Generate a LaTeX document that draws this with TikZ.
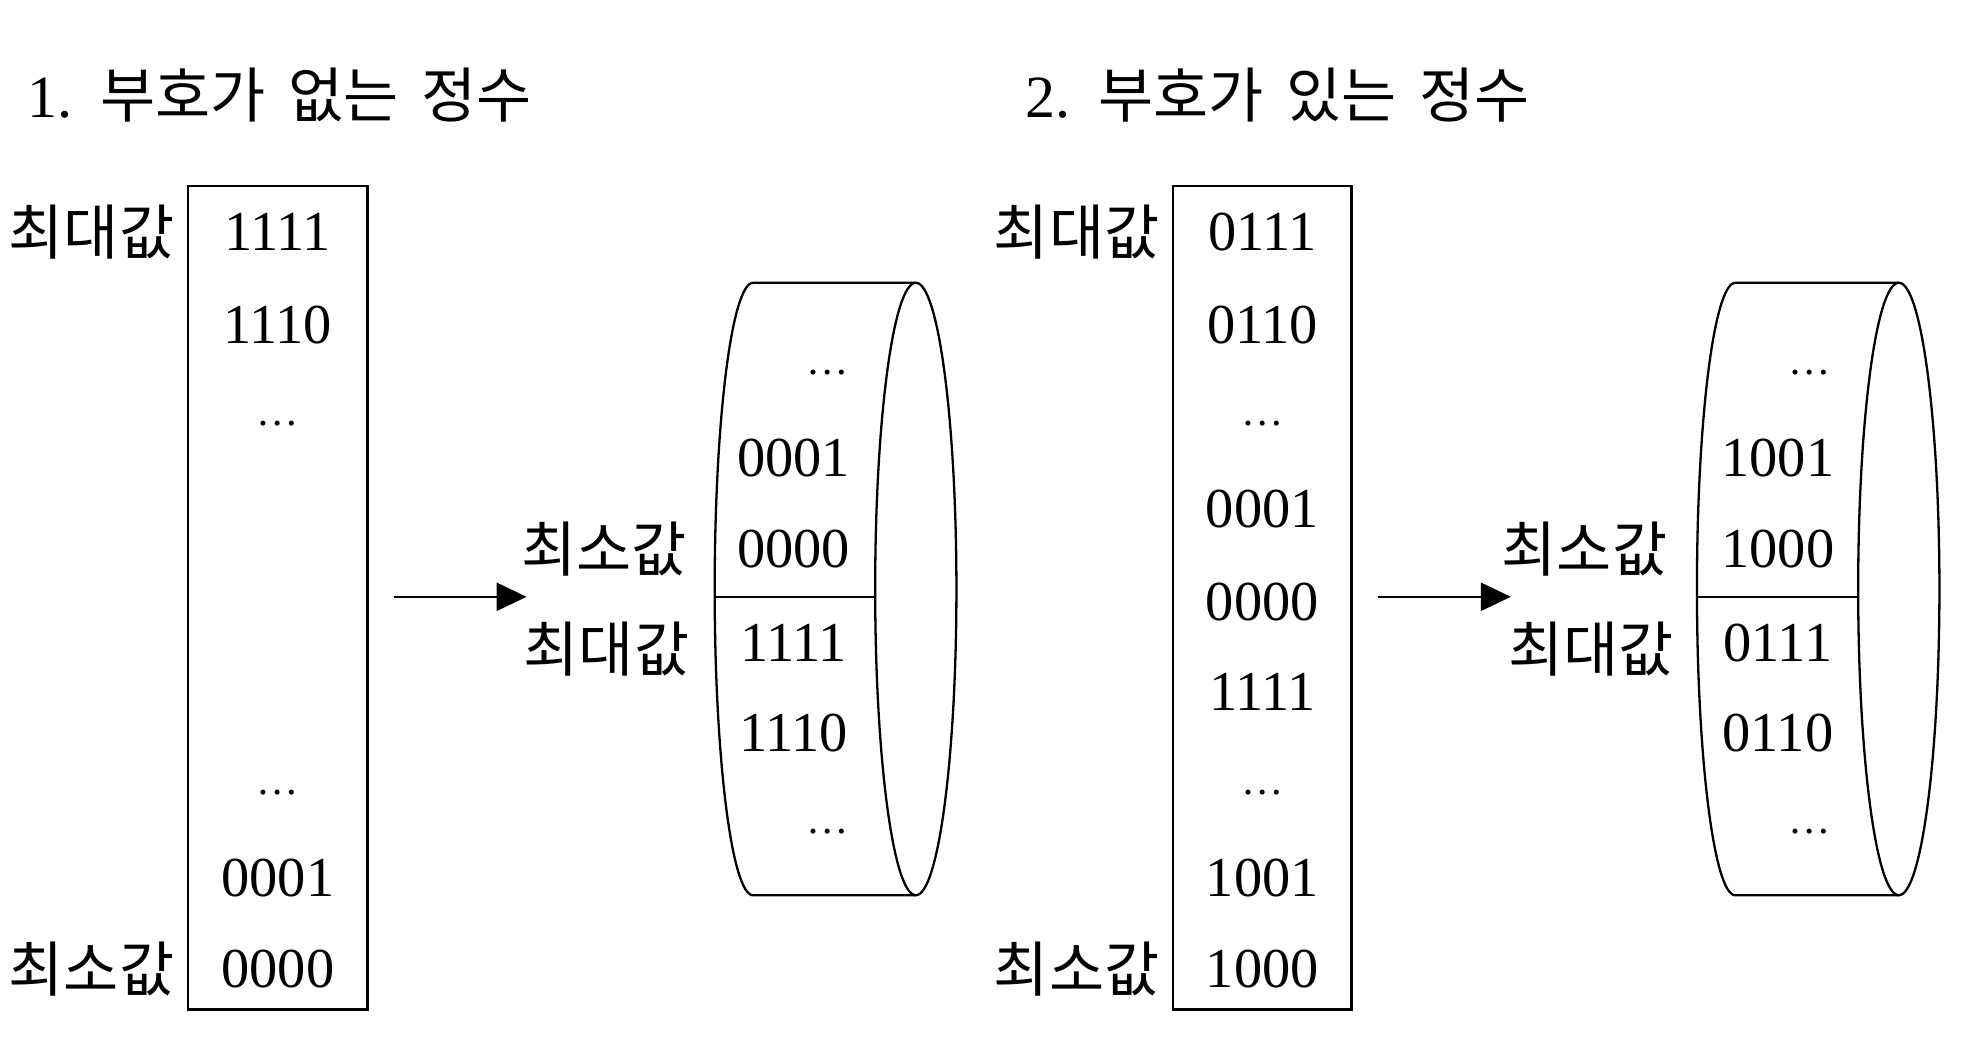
\documentclass[tikz,border=0pt]{standalone}
\usepackage{fontspec}
\setmainfont{Liberation Serif}
\newfontfamily\kr{Noto Sans CJK KR}[WordSpace=1.7]
\usetikzlibrary{arrows.meta}
\tikzset{
  val/.style={font=\fontsize{32}{36}\selectfont, inner sep=0pt},
  dts/.style={font=\fontsize{24}{28}\selectfont, inner sep=0pt},
  lbl/.style={font=\kr\fontsize{34}{40}\selectfont, inner sep=0pt},
  ttl/.style={font=\kr\fontsize{34}{40}\selectfont, inner sep=0pt, anchor=west},
  cell/.style={draw, line width=1.3pt, inner sep=0pt},
  arr/.style={line width=1.3pt, -{Triangle[length=0.6cm, width=0.56cm]}},
}

\begin{document}
\begin{tikzpicture}
        \useasboundingbox (0, 0) rectangle (39.2, 20.7);
        % titles
        \node[ttl] (t1) at (0.55, 18.8) {\textrm{1.} 부호가 없는 정수};
        \node[ttl] (t2) at (20.45, 18.8) {\textrm{2.} 부호가 있는 정수};

        % unsigned: memory box
        \node[cell, minimum width = 3.575cm, minimum height = 16.42cm] (box1) at (5.54, 8.78) {};
        \node[val] (u1) at (5.54, 16.075) {1111};
        \node[val] (u2) at (5.54, 14.225) {1110};
        \node[dts] (u3) at (5.54, 12.25) {\ldots};
        \node[dts] (u4) at (5.54, 4.9) {\ldots};
        \node[val] (u5) at (5.54, 3.2) {0001};
        \node[val] (u6) at (5.54, 1.375) {0000};
        \node[lbl, anchor = east] (umax) at ([xshift = -0.25cm]box1.west |- u1) {최대값};
        \node[lbl, anchor = east] (umin) at ([xshift = -0.25cm]box1.west |- u6) {최소값};

        \coordinate (a1) at (10.5, 8.8);
        \draw[arr] ([xshift = 0.5cm]box1.east |- a1) -- (a1);

        % unsigned: ring
        \draw[line width = 1.3pt] (18.26, 15.06) -- (15.015, 15.06)
                arc[start angle = 90, end angle = 270, x radius = 0.765, y radius = 6.106] -- (18.26, 2.85);
        \draw[line width = 1.3pt] (18.26, 8.956) ellipse [x radius = 0.81, y radius = 6.106];
        \draw[line width = 1.3pt] (14.25, 8.8) -- (17.45, 8.8);
        \node[dts] (r1) at (16.5, 13.275) {\ldots};
        \node[val] (r2) at (15.825, 11.575) {0001};
        \node[val] (r3) at (15.825, 9.75) {0000};
        \node[val] (r4) at (15.825, 7.875) {1111};
        \node[val] (r5) at (15.825, 6.075) {1110};
        \node[dts] (r6) at (16.5, 4.125) {\ldots};
        \node[lbl, anchor = east] (rmin) at (13.7, 9.75) {최소값};
        \node[lbl, anchor = east] (rmax) at (13.75, 7.75) {최대값};

        % signed: memory box
        \node[cell, minimum width = 3.55cm, minimum height = 16.42cm] (box2) at (25.17, 8.78) {};
        \node[val] (s1) at (25.17, 16.075) {0111};
        \node[val] (s2) at (25.17, 14.225) {0110};
        \node[dts] (s3) at (25.17, 12.25) {\ldots};
        \node[val] (s4) at (25.17, 10.55) {0001};
        \node[val] (s5) at (25.17, 8.7) {0000};
        \node[val] (s6) at (25.17, 6.9) {1111};
        \node[dts] (s7) at (25.17, 4.9) {\ldots};
        \node[val] (s8) at (25.17, 3.2) {1001};
        \node[val] (s9) at (25.17, 1.375) {1000};
        \node[lbl, anchor = east] (smax) at ([xshift = -0.25cm]box2.west |- s1) {최대값};
        \node[lbl, anchor = east] (smin) at ([xshift = -0.25cm]box2.west |- s9) {최소값};

        \coordinate (a2) at (30.125, 8.8);
        \draw[arr] ([xshift = 0.5cm]box2.east |- a2) -- (a2);

        % signed: ring
        \draw[line width = 1.3pt] (37.86, 15.06) -- (34.6, 15.06)
                arc[start angle = 90, end angle = 270, x radius = 0.765, y radius = 6.106] -- (37.86, 2.85);
        \draw[line width = 1.3pt] (37.86, 8.956) ellipse [x radius = 0.81, y radius = 6.106];
        \draw[line width = 1.3pt] (33.835, 8.8) -- (37.05, 8.8);
        \node[dts] (q1) at (36.075, 13.275) {\ldots};
        \node[val] (q2) at (35.45, 11.575) {1001};
        \node[val] (q3) at (35.45, 9.75) {1000};
        \node[val] (q4) at (35.45, 7.875) {0111};
        \node[val] (q5) at (35.45, 6.075) {0110};
        \node[dts] (q6) at (36.075, 4.125) {\ldots};
        \node[lbl, anchor = east] (qmin) at (33.25, 9.75) {최소값};
        \node[lbl, anchor = east] (qmax) at (33.375, 7.75) {최대값};
\end{tikzpicture}
\end{document}
